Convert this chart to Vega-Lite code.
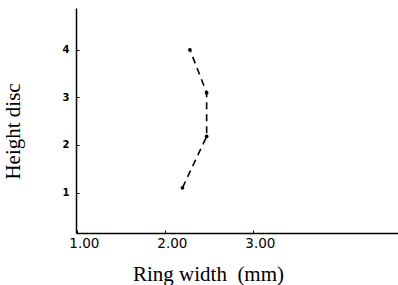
{
  "$schema": "https://vega.github.io/schema/vega-lite/v6.json",
  "autosize": {"type": "none"},
  "padding": {"left": 76, "top": 8, "right": 0, "bottom": 52},
  "width": 322,
  "height": 225,
  "background": "white",
  "config": {"view": {"stroke": null}},
  "data": {"values": [
    {"ring": 2.2, "height": 1.1},
    {"ring": 2.475, "height": 2.18},
    {"ring": 2.475, "height": 3.1},
    {"ring": 2.285, "height": 4.0}
  ]},
  "encoding": {
    "x": {"field": "ring", "type": "quantitative",
      "scale": {"domain": [0.99, 4.65], "nice": false, "zero": false},
      "axis": {"values": [1, 2, 3], "format": ".2f", "title": "Ring width\u00a0 (mm)",
        "grid": false, "domainColor": "black", "domainWidth": 1.5, "tickColor": "black", "tickSize": -3,
        "labelFont": "DejaVu Sans", "labelFontSize": 13.5, "labelColor": "black", "labelPadding": 6, "labelOffset": 7, "labelFlush": false,
        "titleFont": "Liberation Serif", "titleFontSize": 21, "titleFontWeight": "normal", "titleColor": "black",
        "titleX": 132, "titleY": 30, "titleAnchor": "middle"}},
    "y": {"field": "height", "type": "quantitative",
      "scale": {"domain": [0.15, 4.88], "nice": false, "zero": false},
      "axis": {"values": [1, 2, 3, 4], "format": "d", "title": "Height disc",
        "grid": false, "domainColor": "black", "domainWidth": 1.5, "tickColor": "black", "tickSize": -3,
        "labelFont": "DejaVu Sans", "labelFontSize": 10, "labelFontWeight": "bold", "labelColor": "black", "labelPadding": 10,
        "titleFont": "Liberation Serif", "titleFontSize": 21, "titleFontWeight": "normal", "titleColor": "black",
        "titleX": -53, "titleY": 123, "titleAnchor": "middle"}}
  },
  "layer": [
    {"mark": {"type": "line", "color": "black", "strokeWidth": 1.6, "strokeDash": [7, 5]},
     "encoding": {"order": {"field": "height", "type": "quantitative"}}},
    {"mark": {"type": "circle", "color": "black", "opacity": 1, "size": 14}}
  ]
}
